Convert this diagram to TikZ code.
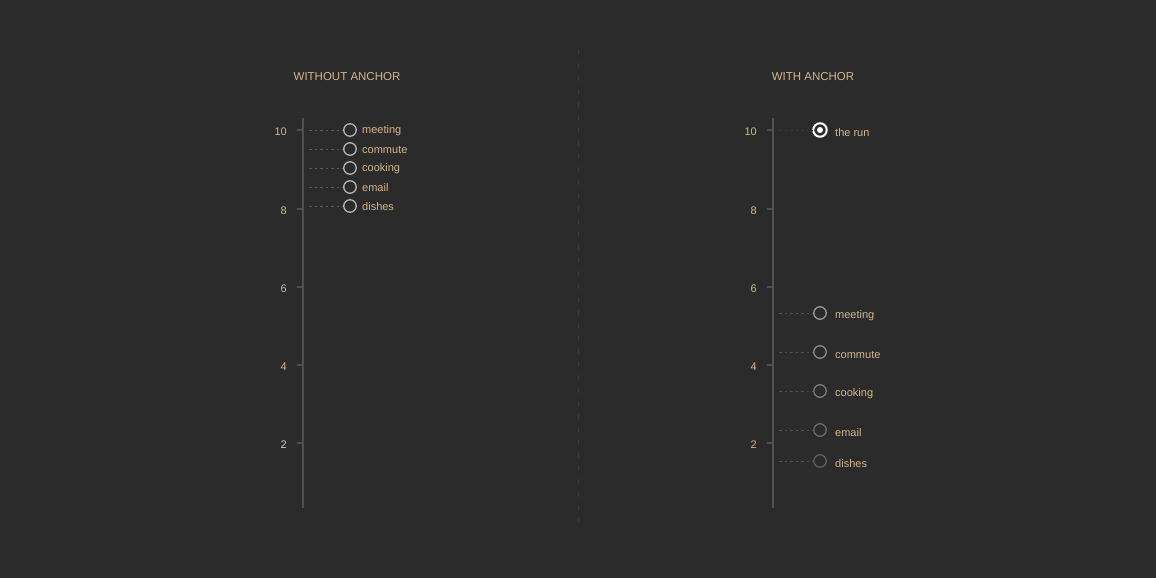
\documentclass[tikz,border=0pt]{standalone}
\usepackage{fontspec}
\setmainfont{Liberation Sans}
\begin{document}
\begin{tikzpicture}[x=1pt,y=-1pt,
  axisline/.style={draw=axisc,line width=1.2pt},
  tickline/.style={draw=axisc,line width=1.2pt},
  ticklab/.style={anchor=east,text=tan,font=\fontsize{11}{12}\selectfont,inner sep=0pt},
  title/.style={text=tan,font=\fontsize{11.5}{13}\selectfont,inner sep=0pt},
  itemlab/.style={anchor=west,text=tan,font=\fontsize{11}{12}\selectfont,inner sep=0pt},
  dot/.style={circle,draw=#1,line width=1.3pt,minimum size=12.5pt,inner sep=0pt},
  leader/.style={draw=dashc,line width=0.9pt,dash pattern=on 2.5pt off 3pt}]
\definecolor{bg}{HTML}{2B2B2B}
\definecolor{axisc}{HTML}{505050}
\definecolor{dashc}{HTML}{5A5A5A}
\definecolor{tan}{HTML}{D2B68A}
\definecolor{lightg}{HTML}{D0D0D0}
\definecolor{ring}{HTML}{B4B4B4}
\fill[bg] (0,0) rectangle (1156,578);
\useasboundingbox (0,0) rectangle (1156,578);
% divider
\draw[draw=axisc!45!bg,line width=0.8pt,dash pattern=on 5pt off 8pt] (578,50) -- (578,522);
% titles
\node[title] (t1) at (347,77) {WITHOUT ANCHOR};
\node[title] (t2) at (813,77) {WITH ANCHOR};
% left axis
\coordinate (la0) at (303,118);
\coordinate (la1) at (303,508);
\draw[axisline] (la0) -- (la1);
\foreach \v/\y/\c in {10/130/tan,8/209/tan,6/287/tan,4/365/tan,2/443/lightg}{
  \coordinate (lt\v) at (297,\y);
  \coordinate (lr\v) at (303,\y);
  \draw[tickline] (lt\v) -- (lr\v);
  \node[ticklab,text=\c] (ll\v) at (287,\y+1.5) {\v};
}
% left items
\foreach \n/\y in {meeting/130,commute/149,cooking/168,email/187,dishes/206}{
  \node[dot=ring] (lc\n) at (350,\y) {};
  \coordinate (ls\n) at (309,\y);
  \draw[leader] (ls\n) -- (lc\n.west);
  \node[itemlab] (lx\n) at (362,\y+0.5) {\n};
}
% right axis
\coordinate (ra0) at (773,118);
\coordinate (ra1) at (773,508);
\draw[axisline] (ra0) -- (ra1);
\foreach \v/\y in {10/130,8/209,6/287,4/365,2/443}{
  \coordinate (rt\v) at (767,\y);
  \coordinate (rr\v) at (773,\y);
  \draw[tickline] (rt\v) -- (rr\v);
  \node[ticklab] (rl\v) at (757,\y+1.5) {\v};
}
% the run
\node[circle,draw=white,line width=2pt,minimum size=13.5pt,inner sep=0pt] (run) at (820,130) {};
\node[circle,fill=white,minimum size=6pt,inner sep=0pt] (rundot) at (run.center) {};
\coordinate (srun) at (779,130);
\draw[leader,draw=dashc!120] (srun) -- (run.west);
\node[itemlab] (xrun) at (835,132.5) {the run};
% right items
\foreach \n/\y/\g in {meeting/313/9A9A9A,commute/352/8C8C8C,cooking/391/7A7A7A,email/430/6A6A6A,dishes/461/5E5E5E}{
  \definecolor{cc}{HTML}{\g}
  \node[dot=cc] (rc\n) at (820,\y) {};
  \coordinate (rs\n) at (779,\y);
  \draw[leader,draw=dashc!80!bg] (rs\n) -- (rc\n.west);
  \node[itemlab] (rx\n) at (835,\y+2.5) {\n};
}
\end{tikzpicture}
\end{document}
